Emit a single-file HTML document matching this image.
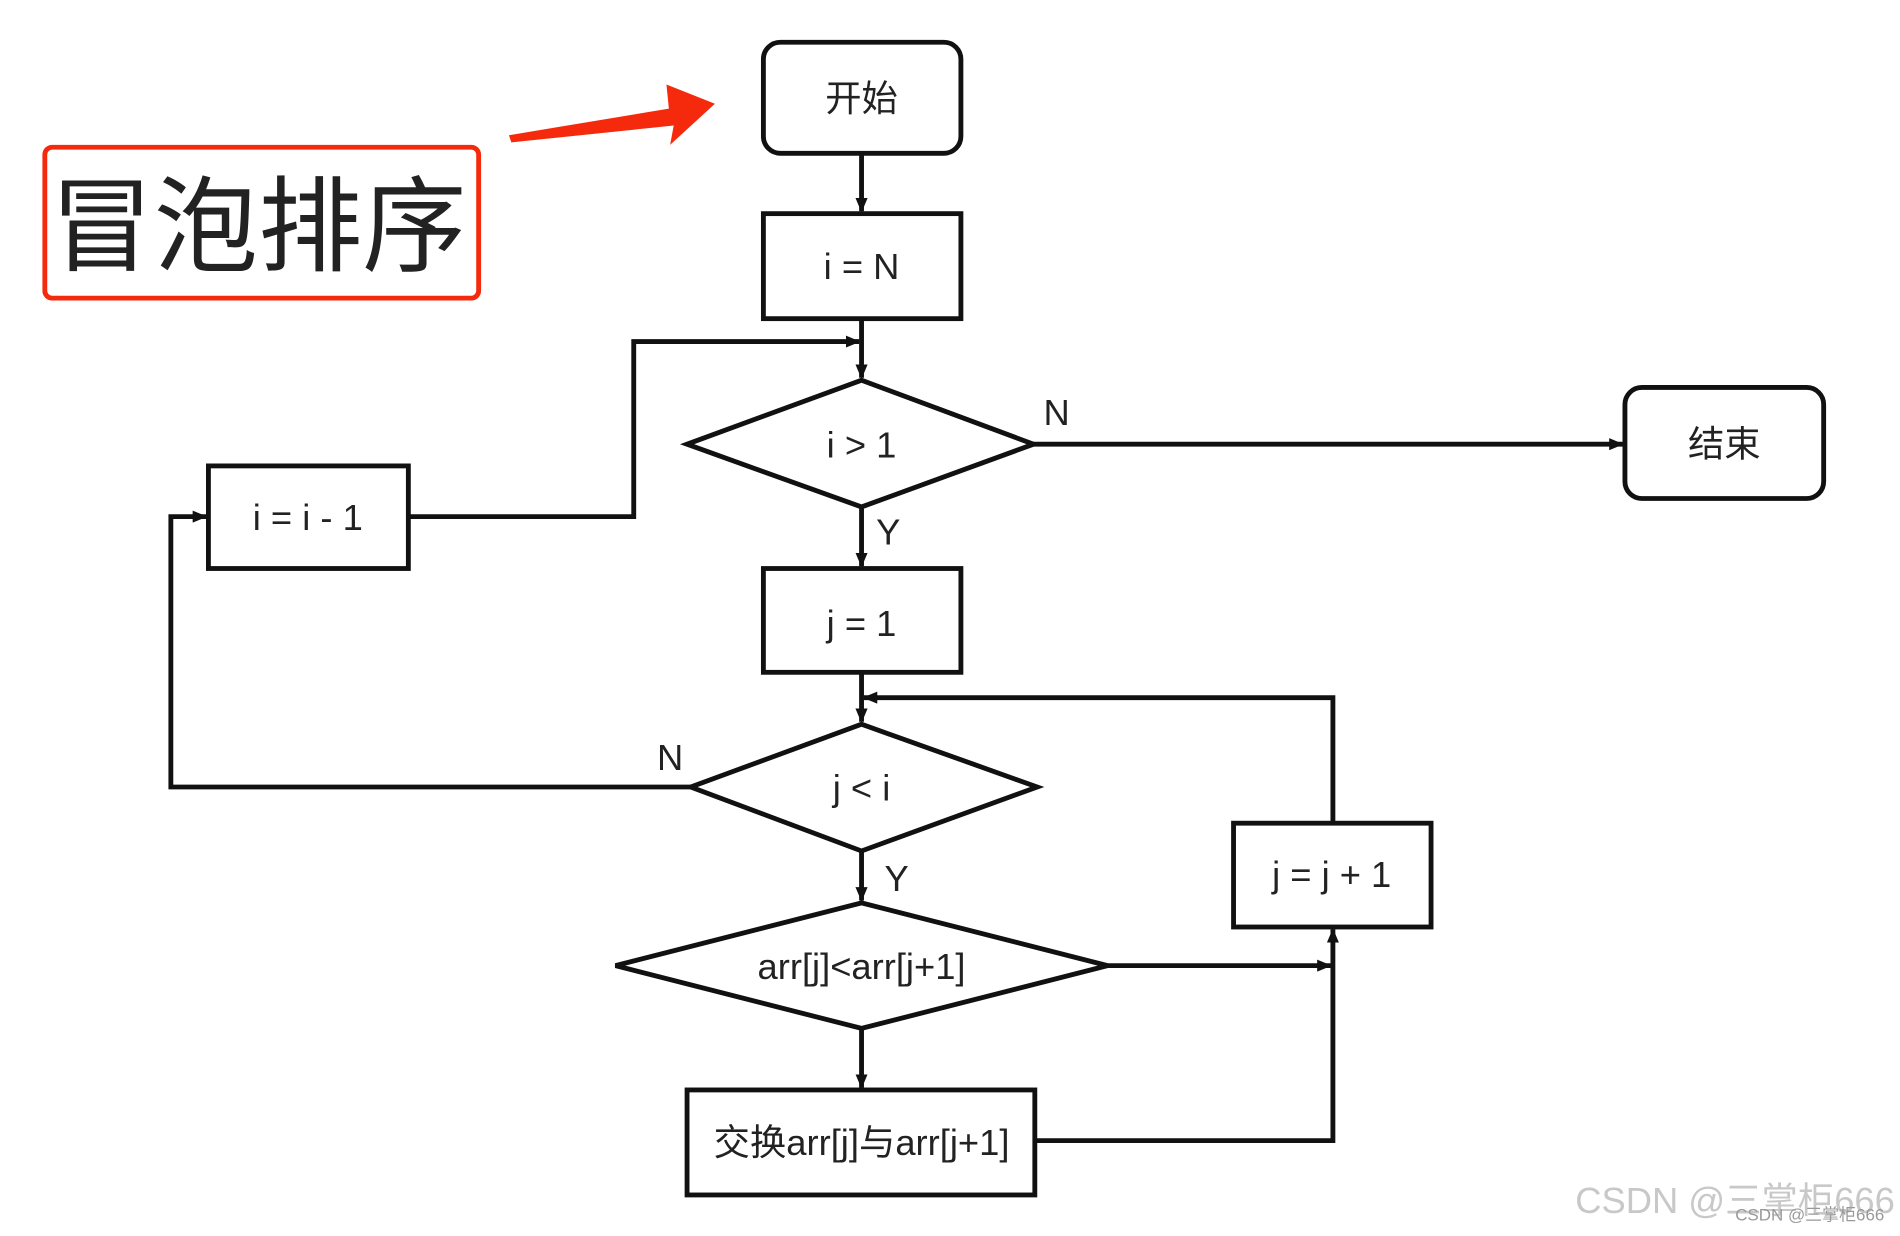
<!DOCTYPE html>
<html><head><meta charset="utf-8"><style>
html,body{margin:0;padding:0;background:#fff;}
svg{display:block;}
text{font-family:"Liberation Sans","Noto Sans CJK SC",sans-serif;fill:#222;}
</style></head><body>
<svg width="1900" height="1236" viewBox="0 0 1568 1024" preserveAspectRatio="none" xmlns="http://www.w3.org/2000/svg">
<defs>
<marker id="a" markerWidth="12" markerHeight="10" refX="11" refY="5" orient="auto" markerUnits="userSpaceOnUse">
<path d="M0,0 L12,5 L0,10 Z" fill="#111"/></marker>
</defs>
<g stroke="#111" stroke-width="4" fill="none">
<rect x="630" y="35" width="163" height="92" rx="14"/>
<rect x="630" y="177" width="163" height="87"/>
<polygon points="567,368 711,315 853,368 711,420"/>
<rect x="1341" y="321" width="164" height="92" rx="14"/>
<rect x="172" y="386" width="165" height="85"/>
<rect x="630" y="471" width="163" height="86"/>
<polygon points="570,652 711,600 856,652 711,705"/>
<rect x="1018" y="682" width="163" height="86"/>
<polygon points="508,800 711,748 914,800 711,852"/>
<rect x="567" y="903" width="287" height="87"/>
</g>
<g stroke="#111" stroke-width="4" fill="none">
<line x1="711" y1="127" x2="711" y2="175" marker-end="url(#a)"/>
<line x1="711" y1="264" x2="711" y2="313" marker-end="url(#a)"/>
<polyline points="337,428 523,428 523,283 709,283" marker-end="url(#a)"/>
<line x1="853" y1="368" x2="1339" y2="368" marker-end="url(#a)"/>
<line x1="711" y1="420" x2="711" y2="469" marker-end="url(#a)"/>
<line x1="711" y1="557" x2="711" y2="598" marker-end="url(#a)"/>
<polyline points="1100,682 1100,578 713,578" marker-end="url(#a)"/>
<polyline points="570,652 141,652 141,428 170,428" marker-end="url(#a)"/>
<line x1="711" y1="705" x2="711" y2="746" marker-end="url(#a)"/>
<line x1="914" y1="800" x2="1098" y2="800" marker-end="url(#a)"/>
<polyline points="854,945 1100,945 1100,770" marker-end="url(#a)"/>
<line x1="711" y1="852" x2="711" y2="901" marker-end="url(#a)"/>
</g>
<rect x="37" y="122" width="358" height="125" rx="6" fill="none" stroke="#f52a0c" stroke-width="4"/>
<text x="213" y="218" font-size="86" text-anchor="middle" fill="#111" style="font-family:'Noto Sans CJK SC',sans-serif">冒泡排序</text>
<polygon points="420,112 552,90 550,70 590,86 553,120 556,104 422,118" fill="#f52a0c"/>
<g font-size="30" text-anchor="middle">
<text x="711" y="92">开始</text>
<text x="711" y="231">i = N</text>
<text x="711" y="379">i &gt; 1</text>
<text x="1423" y="378">结束</text>
<text x="254" y="439">i = i - 1</text>
<text x="711" y="527">j = 1</text>
<text x="711" y="663">j &lt; i</text>
<text x="1099" y="735">j = j + 1</text>
<text x="711" y="811">arr[j]&lt;arr[j+1]</text>
<text x="711" y="957">交换arr[j]与arr[j+1]</text>
<text x="872" y="352">N</text>
<text x="733" y="451">Y</text>
<text x="553" y="638">N</text>
<text x="740" y="738">Y</text>
</g>
<text x="1300" y="1005" font-size="30" fill="#c8c8c8" style="fill:#c8c8c8">CSDN @三掌柜666</text>
<text x="1432" y="1011" font-size="14" style="fill:#999">CSDN @三掌柜666</text>
</svg>
</body></html>
